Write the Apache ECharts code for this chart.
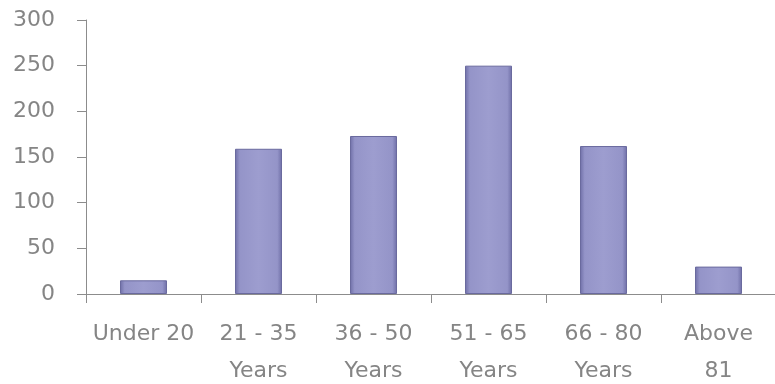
<!DOCTYPE html>
<html><head><meta charset="utf-8">
<script src="https://cdn.jsdelivr.net/npm/echarts@6/dist/echarts.min.js"></script>
<style>html,body{margin:0;padding:0;background:#fff}#c{width:775px;height:384px}</style>
</head><body><div id="c"></div>
<script>
const categories = ["Under 20", "21 - 35\nYears", "36 - 50\nYears", "51 - 65\nYears", "66 - 80\nYears", "Above\n81"];
const values = [15, 159, 173, 250, 162, 30];
const yTicks = {min: 0, max: 300, interval: 50};

const chart = echarts.init(document.getElementById('c'), null, {renderer: 'canvas'});
const textColor = '#858585';
const font = '"DejaVu Sans", sans-serif';
chart.setOption({
  animation: false,
  grid: {left: 86, top: 20, width: 690, height: 274, containLabel: false, outerBoundsMode: 'none'},
  xAxis: {
    type: 'category', data: categories,
    axisLine: {lineStyle: {color: '#8c8c8c', width: 1}},
    axisTick: {show: true, alignWithLabel: false, length: 9, lineStyle: {color: '#8c8c8c'}},
    axisLabel: {interval: 0, color: textColor, fontSize: 22, fontFamily: font, lineHeight: 37, margin: 22}
  },
  yAxis: {
    type: 'value', min: yTicks.min, max: yTicks.max, interval: yTicks.interval,
    splitLine: {show: false},
    axisLine: {show: true, lineStyle: {color: '#8c8c8c', width: 1}},
    axisTick: {show: true, length: 9, lineStyle: {color: '#8c8c8c'}},
    axisLabel: {color: textColor, fontSize: 22, fontFamily: font, margin: 31}
  },
  series: [{
    type: 'bar', data: values, barWidth: 47,
    itemStyle: {
      color: new echarts.graphic.LinearGradient(0, 0, 1, 0, [
        {offset: 0, color: '#6e6ea6'},
        {offset: 0.1, color: '#9494c8'},
        {offset: 0.5, color: '#9d9dcf'},
        {offset: 0.9, color: '#9494c8'},
        {offset: 1, color: '#6e6ea6'}
      ]),
      borderColor: '#6a6a9e', borderWidth: 1
    }
  }]
});
</script></body></html>
